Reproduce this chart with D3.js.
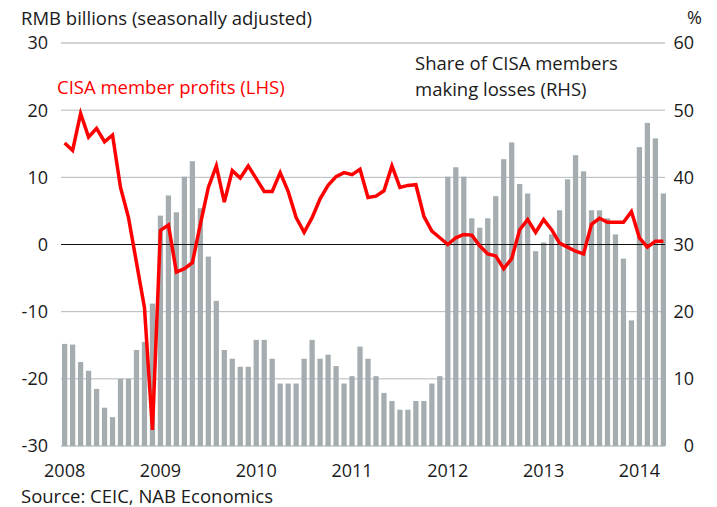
<!DOCTYPE html>
<html>
<head>
<meta charset="utf-8">
<script src="https://cdn.jsdelivr.net/npm/d3@7"></script>
<style>
  body { margin: 0; background: #fff; }
  text { font-family: "Open Sans", "Noto Sans", sans-serif; fill: #1a1a1a; }
</style>
</head>
<body>
<svg id="chart" width="717" height="507"></svg>
<script>
// Data (monthly, Jan 2008 - Apr 2014)
const years = [2008, 2009, 2010, 2011, 2012, 2013, 2014];
const leftTicks = [-30, -20, -10, 0, 10, 20, 30];
const rightTicks = [0, 10, 20, 30, 40, 50, 60];

// CISA member profits, RMB bn (LHS)
const profits = [
  15.1, 14.0, 19.5, 16.0, 17.3, 15.3, 16.3, 8.5, 4.0, -2.7, -9.4, -27.6,
  2.1, 2.9, -4.1, -3.6, -2.7, 3.0, 8.5, 11.7, 6.3, 11.0, 9.9, 11.7,
  9.8, 7.9, 7.9, 10.7, 7.9, 4.0, 1.8, 4.0, 6.8, 8.8, 10.1, 10.7,
  10.4, 11.2, 7.0, 7.2, 8.0, 11.7, 8.5, 8.8, 8.9, 4.2, 2.0, 1.0,
  0.0, 1.0, 1.5, 1.4, -0.2, -1.4, -1.7, -3.6, -2.1, 2.2, 3.7, 1.8,
  3.7, 2.2, 0.2, -0.4, -1.0, -1.4, 3.0, 3.9, 3.3, 3.3, 3.3, 4.9,
  1.0, -0.4, 0.5, 0.5
];

// Share of CISA members making losses, % (RHS)
const lossShare = [
  15.2, 15.1, 12.5, 11.2, 8.5, 5.7, 4.3, 10.0, 10.0, 14.3, 15.5, 21.2,
  34.3, 37.3, 34.8, 40.1, 42.4, 35.4, 28.2, 21.6, 14.3, 13.0, 11.8, 11.8,
  15.8, 15.8, 13.0, 9.3, 9.3, 9.3, 13.0, 15.8, 13.0, 13.6, 11.9, 9.3,
  10.4, 14.8, 13.0, 10.4, 7.9, 6.7, 5.4, 5.4, 6.7, 6.7, 9.3, 10.4,
  40.1, 41.5, 40.1, 33.9, 32.5, 33.9, 37.2, 42.7, 45.2, 39.0, 37.6, 29.0,
  30.3, 31.5, 35.1, 39.7, 43.3, 40.9, 35.1, 35.1, 33.9, 31.5, 27.9, 18.7,
  44.5, 48.1, 45.8, 37.6
];

const months = profits.map((d, i) => i);

const svg = d3.select('#chart');
const plotLeft = 61, plotRight = 665, plotTop = 43, plotBottom = 446;

const x = d3.scaleBand().domain(months).range([62, 666]).paddingInner(0.34);
const yL = d3.scaleLinear().domain([-30, 30]).range([plotBottom, plotTop]);
const yR = d3.scaleLinear().domain([0, 60]).range([plotBottom, plotTop]);

// Gridlines
svg.append('g')
  .selectAll('line')
  .data(leftTicks)
  .enter()
  .append('line')
  .attr('x1', plotLeft)
  .attr('x2', plotRight)
  .attr('y1', d => yL(d))
  .attr('y2', d => yL(d))
  .attr('stroke', d => (d === 30 || d === -30) ? '#cfd3d6' : '#b4b8bb')
  .attr('stroke-width', d => (d === 30 || d === -30) ? 2 : 1);

// Bars (RHS)
svg.append('g')
  .selectAll('rect')
  .data(lossShare)
  .enter()
  .append('rect')
  .attr('x', (d, i) => x(i))
  .attr('width', x.bandwidth())
  .attr('y', d => yR(d))
  .attr('height', d => yR(0) - yR(d))
  .attr('fill', '#a6adb1');

// Zero line
svg.append('line')
  .attr('x1', plotLeft)
  .attr('x2', plotRight)
  .attr('y1', yL(0))
  .attr('y2', yL(0))
  .attr('stroke', '#111')
  .attr('stroke-width', 1.2);

// Profits line (LHS)
const line = d3.line()
  .x((d, i) => x(i) + x.bandwidth() / 2)
  .y(d => yL(d));

svg.append('path')
  .datum(profits)
  .attr('d', line)
  .attr('fill', 'none')
  .attr('stroke', '#ff0000')
  .attr('stroke-width', 3.5)
  .attr('stroke-linejoin', 'miter');

// Left axis labels
svg.append('g')
  .selectAll('text')
  .data(leftTicks)
  .enter()
  .append('text')
  .attr('x', 48)
  .attr('y', d => yL(d))
  .attr('dy', '0.36em')
  .attr('text-anchor', 'end')
  .style('font-size', '18px')
  .text(d => d);

// Right axis labels
svg.append('g')
  .selectAll('text')
  .data(rightTicks)
  .enter()
  .append('text')
  .attr('x', 694)
  .attr('y', d => yR(d))
  .attr('dy', '0.36em')
  .attr('text-anchor', 'end')
  .style('font-size', '18px')
  .text(d => d);

// Year labels
svg.append('g')
  .selectAll('text')
  .data(years)
  .enter()
  .append('text')
  .attr('x', (d, i) => x(i * 12) + x.bandwidth() / 2)
  .attr('y', 477)
  .attr('text-anchor', 'middle')
  .style('font-size', '18px')
  .text(d => d);

// Titles and annotations
svg.append('text')
  .attr('x', 21).attr('y', 25)
  .style('font-size', '18.5px')
  .text('RMB billions (seasonally adjusted)');

svg.append('text')
  .attr('x', 702).attr('y', 24)
  .attr('text-anchor', 'end')
  .style('font-size', '18px')
  .text('%');

svg.append('text')
  .attr('x', 57).attr('y', 94)
  .style('font-size', '18.5px')
  .style('fill', '#ff0000')
  .text('CISA member profits (LHS)');

svg.append('text')
  .attr('x', 415).attr('y', 70)
  .style('font-size', '18.5px')
  .text('Share of CISA members');

svg.append('text')
  .attr('x', 415).attr('y', 96)
  .style('font-size', '18.5px')
  .text('making losses (RHS)');

svg.append('text')
  .attr('x', 21).attr('y', 503)
  .style('font-size', '18.5px')
  .text('Source: CEIC, NAB Economics');
</script>
</body>
</html>
